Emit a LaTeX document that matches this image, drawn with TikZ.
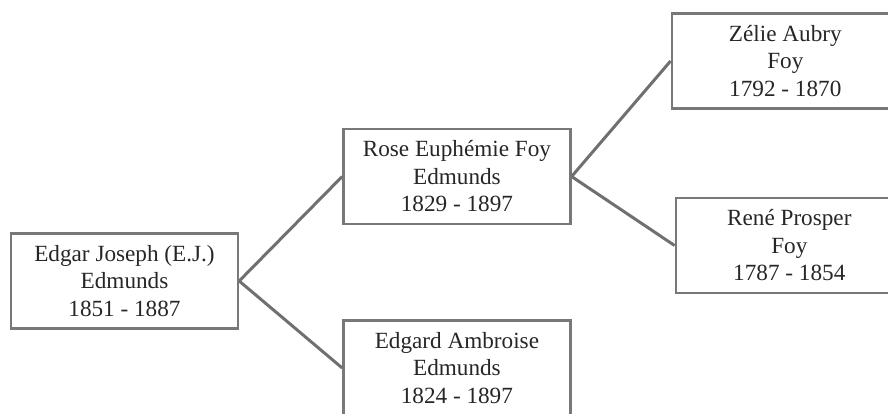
\documentclass[tikz,border=0pt]{standalone}
\usepackage{fontspec}
\setmainfont{Liberation Serif}
\usetikzlibrary{positioning}
\definecolor{boxgray}{RGB}{120,120,120}
\definecolor{linkgray}{RGB}{112,112,112}

\begin{document}
\begin{tikzpicture}[
    x=1pt, y=-1pt,
    node distance=103pt,
    every node/.style={draw=boxgray, line width=2.4pt, rectangle, minimum width=227pt, minimum height=95pt, inner sep=0pt, align=center, font=\fontsize{23.2}{27.5}\selectfont, text=black!85},
    link/.style={draw=linkgray, line width=3pt}
]
\clip (0,0) rectangle (888,413);
\node (edgar) at (124.5,281) {Edgar Joseph (E.J.)\\Edmunds\\1851 - 1887};
\node[right=of edgar, yshift=104.5pt] (rose) {Rose Euphémie Foy\\Edmunds\\1829 - 1897};
\node[right=of edgar, yshift=-87pt] (ambroise) {Edgard Ambroise\\Edmunds\\1824 - 1897};
\node[right=99pt of rose, yshift=115.5pt] (zelie) {Zélie Aubry\\Foy\\1792 - 1870};
\node[right=of rose, yshift=-69pt] (rene) {René Prosper\\Foy\\1787 - 1854};

\draw[link] (edgar.east) -- (rose.west);
\draw[link] (edgar.east) -- (ambroise.west);
\draw[link] (rose.east) -- (zelie.west);
\draw[link] (rose.east) -- (rene.west);

\end{tikzpicture}
\end{document}
